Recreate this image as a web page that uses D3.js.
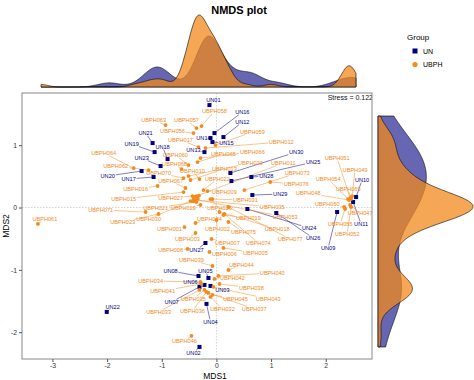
<!DOCTYPE html>
<html><head><meta charset="utf-8">
<script src="https://cdn.jsdelivr.net/npm/d3@7"></script>
<style>body{margin:0;background:#fff}svg{display:block;font-family:"Liberation Sans",Arial,Helvetica,sans-serif}</style>
</head><body><svg id="c" width="474" height="380"></svg>
<script>
// ---------- DATA ----------
const groups = ["UN", "UBPH"];
const unNames = ["UN01","UN02","UN03","UN04","UN05","UN06","UN07","UN08","UN09","UN10","UN11","UN12","UN13","UN14","UN15","UN16","UN17","UN18","UN19","UN20","UN21","UN22","UN23","UN24","UN25","UN26","UN27","UN28","UN29","UN30"];
const unMDS1 = [-0.128,-0.310,-0.109,-0.182,-0.146,-0.219,-0.310,-0.328,2.208,2.555,2.500,0.128,-0.219,-0.109,-0.073,-0.036,-1.150,-0.894,-1.131,-1.369,-1.168,-2.007,-1.022,0.566,0.274,1.095,-0.201,0.639,0.657,0.255];
const unMDS2 = [1.643,-2.236,-1.258,-1.546,-1.130,-1.242,-1.274,-1.098,-0.072,0.168,0.088,1.130,0.889,1.114,1.050,1.194,0.489,0.777,0.889,0.585,1.034,-1.675,0.665,-0.024,0.425,-0.088,-0.569,0.489,0.200,0.553];
const unLabelMDS1 = [-0.055,-0.420,0.109,-0.109,-0.201,-0.474,-0.821,-0.839,2.044,2.664,2.646,0.474,-0.420,-0.237,0.182,0.474,-1.606,-0.985,-1.551,-1.989,-1.296,-1.898,-1.369,1.697,1.770,1.770,-0.365,0.912,1.168,1.460];
const unLabelMDS2 = [1.723,-2.332,-1.322,-1.835,-1.018,-1.194,-1.514,-1.018,-0.649,0.441,-0.264,1.370,0.921,1.114,1.034,1.530,0.457,0.970,1.018,0.505,1.194,-1.595,0.793,-0.329,0.729,-0.489,-0.681,0.505,0.216,0.889];

const ubphNames = ["UBPH058","UBPH057","UBPH056","UBPH063","UBPH059","UBPH017","UBPH012","UBPH066","UBPH065","UBPH060","UBPH068","UBPH070","UBPH064","UBPH062","UBPH016","UBPH015","UBPH071","UBPH023","UBPH061","UBPH067","UBPH010","UBPH022","UBPH013","UBPH020","UBPH011","UBPH073","UBPH076","UBPH009","UBPH031","UBPH035","UBPH053","UBPH027","UBPH021","UBPH029","UBPH026","UBPH030","UBPH024","UBPH019","UBPH018","UBPH077","UBPH074","UBPH001","UBPH002","UBPH075","UBPH003","UBPH007","UBPH008","UBPH006","UBPH005","UBPH039","UBPH044","UBPH040","UBPH042","UBPH034","UBPH041","UBPH038","UBPH043","UBPH045","UBPH037","UBPH032","UBPH036","UBPH033","UBPH025","UBPH046","UBPH051","UBPH049","UBPH054","UBPH069","UBPH048","UBPH050","UBPH047","UBPH055","UBPH052","UBPH004","UBPH014","UBPH028","UBPH072"];
const ubphMDS1 = [-0.274,-0.365,-0.420,-0.931,-0.018,-0.328,-0.201,-0.292,-0.347,-0.511,-0.639,-0.602,-1.515,-1.241,-1.077,-0.602,-1.296,-1.058,-3.266,-0.566,-0.310,-0.237,-0.474,-0.511,-0.365,0.511,0.985,-0.164,-0.073,-0.383,-0.420,-0.438,-0.365,-0.292,-0.109,-0.474,-0.383,0.128,0.055,0.219,0.146,-0.584,0.000,0.219,-0.383,-0.091,-0.529,-0.128,0.128,-0.073,0.219,0.036,-0.036,-0.292,-0.274,0.055,-0.055,-0.073,-0.146,-0.109,-0.182,-0.310,-0.219,-0.456,2.445,2.482,2.409,2.464,2.427,2.336,2.445,2.354,2.464,-0.400,-0.340,-0.420,-0.320];
const ubphMDS2 = [1.306,1.274,1.194,1.322,1.002,0.970,0.954,0.793,0.729,0.681,0.617,0.473,0.633,0.601,0.345,0.248,-0.072,-0.104,-0.264,0.313,0.457,0.280,0.441,0.505,0.184,0.280,0.409,0.264,0.136,0.120,0.136,0.184,0.088,0.040,0.136,0.104,-0.248,-0.120,-0.072,0.008,-0.104,-0.313,-0.200,-0.232,-0.409,-0.505,-0.665,-0.713,-0.649,-0.938,-1.002,-1.098,-1.146,-1.194,-1.226,-1.226,-1.274,-1.402,-1.370,-1.434,-1.354,-1.322,-1.322,-2.059,0.152,0.184,0.136,0.136,0.120,0.008,0.040,-0.024,0.008,0.170,0.140,0.100,0.190];
// label anchors (null = label not shown in the reference, overlapping points)
const ubphLabelMDS1 = [-0.036,-0.547,-0.803,-1.150,0.657,-0.657,1.186,0.657,0.128,-0.748,-0.766,-1.058,-2.062,-1.843,-1.478,-1.697,-2.117,-1.715,-3.139,-0.839,-0.438,0.018,0.146,0.620,1.223,1.478,1.460,0.146,0.529,1.022,1.259,-0.839,-1.113,-0.602,0.055,-1.241,-0.128,0.584,1.113,1.350,0.766,-0.858,0.018,0.493,-0.529,0.201,-0.839,0.146,0.712,-0.456,0.456,1.022,0.292,-1.204,-0.985,0.639,0.949,0.347,0.693,0.109,-0.438,-1.058,-0.420,-0.584,2.208,2.536,2.044,2.409,1.679,2.026,2.628,2.263,2.391,null,null,null,null];
const ubphLabelMDS2 = [1.546,1.402,1.226,1.402,1.210,1.082,1.050,0.889,0.857,0.841,0.697,0.553,0.873,0.665,0.296,0.136,-0.040,-0.232,-0.184,0.425,0.585,0.457,0.617,0.713,0.713,0.553,0.377,0.248,0.120,0.008,-0.152,0.152,-0.008,-0.008,-0.008,-0.184,-0.184,-0.168,-0.345,-0.505,-0.569,-0.345,-0.345,-0.393,-0.505,-0.569,-0.681,-0.745,-0.729,-0.841,-0.921,-1.050,-1.130,-1.178,-1.338,-1.290,-1.466,-1.466,-1.627,-1.627,-1.659,-1.675,-1.466,-2.139,0.793,0.601,0.457,0.296,0.232,0.056,-0.088,-0.264,-0.425,null,null,null,null];

const xTicks = [-3,-2,-1,0,1,2];
const yTicks = [-2,-1,0,1];
const stressLabel = "Stress = 0.122";
const titleText = "NMDS plot";
const xTitle = "MDS1", yTitle = "MDS2", legendTitle = "Group";

// ---------- STYLE ----------
const colPoint = {UN: "#000080", UBPH: "#F28A1E"};
const colFill = {UN: "#000080", UBPH: "#F28A1E"};
const fillOpacity = {UN: 0.6, UBPH: 0.75};
const P = {L: 22, R: 372, T: 93, B: 359};
const TOP = {L: 41, R: 356, base: 87, peak: 15};
const RIGHT = {T: 116, B: 347, base: 378, peak: 473};

// ---------- BUILD ----------
const pts = [];
unNames.forEach((n,i)=>pts.push({name:n, g:"UN", x:unMDS1[i], y:unMDS2[i], lx:unLabelMDS1[i], ly:unLabelMDS2[i]}));
ubphNames.forEach((n,i)=>pts.push({name:n, g:"UBPH", x:ubphMDS1[i], y:ubphMDS2[i], lx:ubphLabelMDS1[i], ly:ubphLabelMDS2[i]}));

const svg = d3.select("#c");
const xExt = d3.extent(pts, d=>d.x), yExt = d3.extent(pts, d=>d.y);
const ex = (e)=>{const r=e[1]-e[0]; return [e[0]-0.05*r, e[1]+0.05*r];};
const x = d3.scaleLinear(ex(xExt), [P.L, P.R]);
const y = d3.scaleLinear(ex(yExt), [P.B, P.T]);

svg.append("text").attr("x", 239).attr("y", 14).attr("text-anchor","middle")
  .attr("font-size", 11).attr("font-weight","bold").text(titleText);

function nrd0(v){
  const s=[...v].sort(d3.ascending);
  const sd=d3.deviation(s);
  const iqr=d3.quantile(s,0.75)-d3.quantile(s,0.25);
  let lo=Math.min(sd, iqr/1.34);
  if(!(lo>0)) lo = sd || 1;
  return 0.9*lo*Math.pow(s.length,-0.2);
}
function kde(v, lo, hi, n=512){
  const bw=nrd0(v);
  return d3.range(n).map(i=>{
    const t=lo+(hi-lo)*i/(n-1);
    return [t, d3.mean(v, xi=>Math.exp(-0.5*((t-xi)/bw)**2))/(bw*Math.sqrt(2*Math.PI))];
  });
}
const densX = groups.map(g=>kde(pts.filter(d=>d.g===g).map(d=>d.x), xExt[0], xExt[1]));
const densY = groups.map(g=>kde(pts.filter(d=>d.g===g).map(d=>d.y), yExt[0], yExt[1]));
const maxDX = d3.max(densX.flat(), d=>d[1]);
const maxDY = d3.max(densY.flat(), d=>d[1]);
const tx = d3.scaleLinear(xExt, [TOP.L, TOP.R]);
const ty = d3.scaleLinear([0, maxDX], [TOP.base, TOP.peak]);
const ry = d3.scaleLinear(yExt, [RIGHT.B, RIGHT.T]);
const rx = d3.scaleLinear([0, maxDY], [RIGHT.base, RIGHT.peak]);
groups.forEach((g,gi)=>{
  const d = densX[gi];
  const path = "M"+tx(d[0][0])+","+ty(0)+d.map(p=>"L"+tx(p[0])+","+ty(p[1])).join("")+"L"+tx(d[d.length-1][0])+","+ty(0)+"Z";
  svg.append("path").attr("d", path).attr("fill", colFill[g]).attr("fill-opacity", fillOpacity[g])
    .attr("stroke","#000").attr("stroke-width",0.6);
});
groups.forEach((g,gi)=>{
  const d = densY[gi];
  const path = "M"+rx(0)+","+ry(d[0][0])+d.map(p=>"L"+rx(p[1])+","+ry(p[0])).join("")+"L"+rx(0)+","+ry(d[d.length-1][0])+"Z";
  svg.append("path").attr("d", path).attr("fill", colFill[g]).attr("fill-opacity", fillOpacity[g])
    .attr("stroke","#000").attr("stroke-width",0.6);
});

svg.append("defs").append("clipPath").attr("id","pc").append("rect")
  .attr("x",P.L).attr("y",P.T).attr("width",P.R-P.L).attr("height",P.B-P.T);
const panel = svg.append("g").attr("clip-path","url(#pc)");
panel.append("line").attr("x1",x(0)).attr("x2",x(0)).attr("y1",P.T).attr("y2",P.B)
  .attr("stroke","#c8c8c8").attr("stroke-width",0.8).attr("stroke-dasharray","1.5,1.5");
panel.append("line").attr("y1",y(0)).attr("y2",y(0)).attr("x1",P.L).attr("x2",P.R)
  .attr("stroke","#c8c8c8").attr("stroke-width",0.8).attr("stroke-dasharray","1.5,1.5");

const labFont = 5.6;
const labG = panel.append("g");
const segG = labG.append("g"), ptG = labG.append("g"), txtG = labG.append("g");
pts.forEach(d=>{
  if (d.lx == null) return;
  const t = txtG.append("text").attr("x", x(d.lx)).attr("y", y(d.ly)).attr("text-anchor","middle")
    .attr("dy","0.35em").attr("font-size", labFont).attr("fill", colPoint[d.g]).text(d.name);
  const bb = t.node().getBBox();
  const cx = x(d.lx), cy = y(d.ly);
  const hw = bb.width/2+0.8, hh = 2.6;
  const px = x(d.x), py = y(d.y);
  const dx = px-cx, dy = py-cy;
  if (Math.abs(dx)<=hw && Math.abs(dy)<=hh) return;
  const s = Math.min(Math.abs(dx)>0? hw/Math.abs(dx):Infinity, Math.abs(dy)>0? hh/Math.abs(dy):Infinity);
  const ex2 = cx+dx*s, ey2 = cy+dy*s;
  const len = Math.hypot(px-ex2, py-ey2);
  if (len < 3) return;
  segG.append("line").attr("x1",ex2).attr("y1",ey2).attr("x2",px).attr("y2",py)
    .attr("stroke", colPoint[d.g]).attr("stroke-width",0.5);
});
pts.forEach(d=>{
  if (d.g==="UN") ptG.append("rect").attr("x",x(d.x)-2).attr("y",y(d.y)-2).attr("width",4).attr("height",4).attr("fill",colPoint.UN);
  else ptG.append("circle").attr("cx",x(d.x)).attr("cy",y(d.y)).attr("r",1.9).attr("fill",colPoint.UBPH);
});
panel.append("text").attr("x",P.R+1).attr("y",P.T+7).attr("text-anchor","end").attr("font-size",7).attr("fill","#111").text(stressLabel);

svg.append("rect").attr("x",P.L).attr("y",P.T).attr("width",P.R-P.L).attr("height",P.B-P.T)
  .attr("fill","none").attr("stroke","#888").attr("stroke-width",1);

const xa = svg.append("g").attr("transform",`translate(0,${P.B})`)
  .call(d3.axisBottom(x).tickValues(xTicks).tickSize(3).tickPadding(1).tickFormat(d3.format("d")));
const ya = svg.append("g").attr("transform",`translate(${P.L},0)`)
  .call(d3.axisLeft(y).tickValues(yTicks).tickSize(3).tickPadding(2).tickFormat(d3.format("d")));
[xa,ya].forEach(a=>{
  a.select(".domain").remove();
  a.selectAll(".tick line").attr("stroke","#555");
  a.selectAll(".tick text").attr("font-size",6.8).attr("fill","#333").attr("font-family","Liberation Sans, Arial, sans-serif")
    .text(d=>d<0?"-"+Math.abs(d):d);
});
svg.append("text").attr("x",215).attr("y",378.5).attr("text-anchor","middle").attr("font-size",8.5).text(xTitle);
svg.append("text").attr("transform",`translate(8.5,${(P.T+P.B)/2}) rotate(-90)`).attr("text-anchor","middle").attr("font-size",8.5).text(yTitle);

const lg = svg.append("g");
lg.append("text").attr("x",407).attr("y",40).attr("font-size",8).text(legendTitle);
lg.append("rect").attr("x",412.5).attr("y",48.5).attr("width",5).attr("height",5).attr("fill",colPoint.UN);
lg.append("text").attr("x",423).attr("y",53.5).attr("font-size",7).text(groups[0]);
lg.append("circle").attr("cx",415).attr("cy",64.5).attr("r",2.6).attr("fill",colPoint.UBPH);
lg.append("text").attr("x",423).attr("y",67).attr("font-size",7).text(groups[1]);
</script></body></html>
